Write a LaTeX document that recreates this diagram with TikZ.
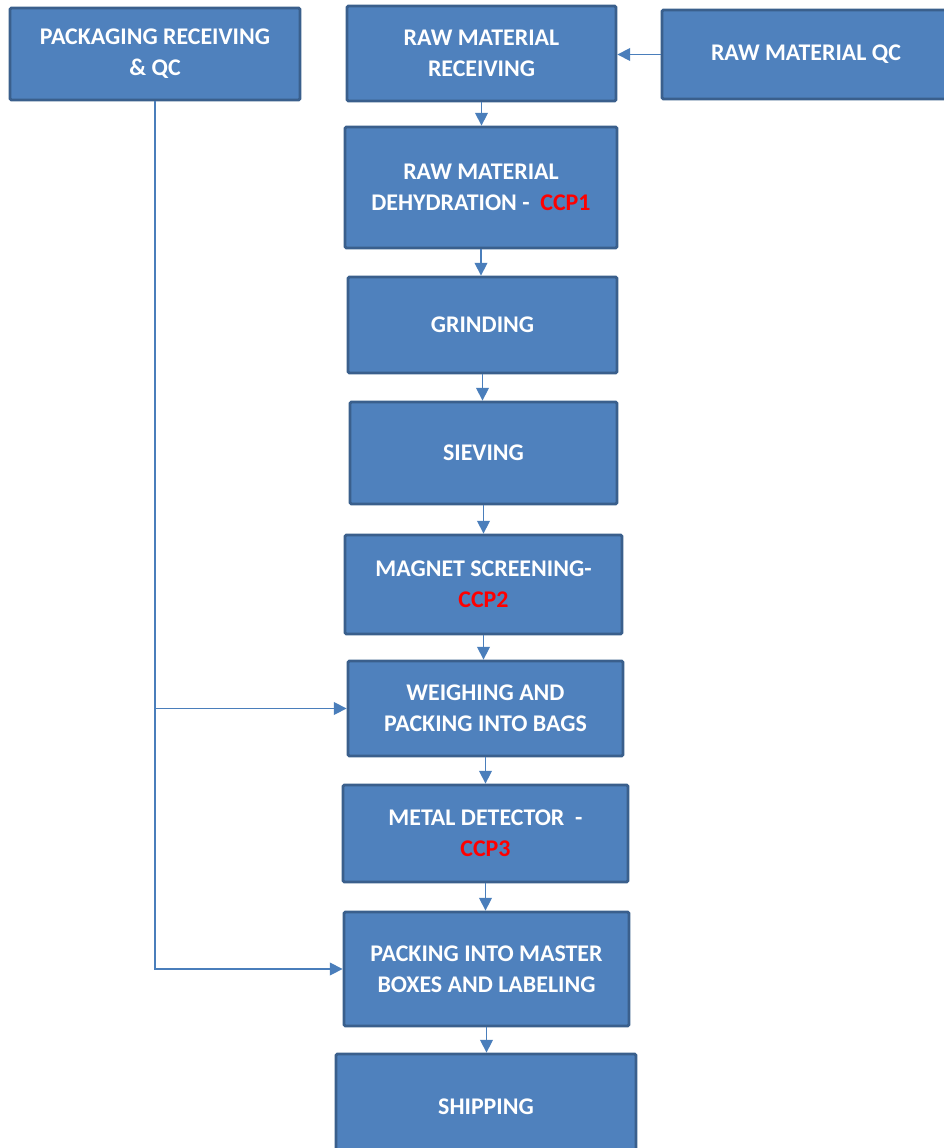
\documentclass[tikz,border=0pt]{standalone}
\usepackage{fontspec}
\setmainfont{Carlito}
\usetikzlibrary{arrows.meta}

\definecolor{boxfill}{HTML}{4F81BD}
\definecolor{boxborder}{HTML}{3A5F8C}
\definecolor{flowcolor}{HTML}{4A7EBB}
\providecommand{\ccpcolor}{red}
\providecommand{\boxborderthickness}{2pt}
\providecommand{\flowthickness}{1pt}
\newlength{\px}
\setlength{\px}{0.025cm}

\begin{document}
\begin{tikzpicture}[
    x=\px, y=-\px,
    % Box styles
    stage_box/.style={
        rectangle,
        rounded corners=1pt,
        fill=boxfill,
        draw=boxborder,
        line width=\boxborderthickness,
        text=white,
        font=\fontsize{17}{22}\selectfont\bfseries,
        align=center,
        inner sep=0pt
    },
    % Connector styles
    flow_line/.style={
        draw=flowcolor,
        line width=\flowthickness
    },
    flow_arrow/.style={
        flow_line,
        -{Triangle[length=9pt,width=9pt]}
    }
]
    \useasboundingbox (0,0) rectangle (944,1148);

    % ==================== SIDE INPUTS ====================
    \node[stage_box, minimum width=290\px, minimum height=92\px] (pkg) at (155,54)
        {PACKAGING RECEIVING\\\& QC};
    \node[stage_box, minimum width=288\px, minimum height=89\px] (rmqc) at (806,54.5)
        {RAW MATERIAL QC};

    % ==================== MAIN LINE ====================
    \node[stage_box, minimum width=269\px, minimum height=95\px] (rmrecv) at (481.5,53.5)
        {RAW MATERIAL\\RECEIVING};
    \node[stage_box, minimum width=272\px, minimum height=121\px] (dehyd) at (481,187.5)
        {RAW MATERIAL\\DEHYDRATION -~~\textcolor{\ccpcolor}{CCP1}};
    \node[stage_box, minimum width=269\px, minimum height=96\px] (grind) at (482.5,325)
        {GRINDING};
    \node[stage_box, minimum width=267\px, minimum height=102\px] (sieve) at (483.5,453)
        {SIEVING};
    \node[stage_box, minimum width=277\px, minimum height=99\px] (magnet) at (483.5,584.5)
        {MAGNET SCREENING-\\\textcolor{\ccpcolor}{CCP2}};
    \node[stage_box, minimum width=275\px, minimum height=95\px] (weigh) at (485.5,708.5)
        {WEIGHING AND\\PACKING INTO BAGS};
    \node[stage_box, minimum width=285\px, minimum height=97\px] (metal) at (485.5,833.5)
        {METAL DETECTOR~~-\\\textcolor{\ccpcolor}{CCP3}};
    \node[stage_box, minimum width=285\px, minimum height=114\px] (master) at (486.5,969)
        {PACKING INTO MASTER\\BOXES AND LABELING};
    \node[stage_box, minimum width=300\px, minimum height=106\px] (ship) at (486,1107)
        {SHIPPING};

    % QC feeds receiving
    \draw[flow_arrow] (rmqc.west) -- (rmqc.west -| rmrecv.east);

    % Main flow
    \draw[flow_arrow] (rmrecv.south) -- (rmrecv.south |- dehyd.north);
    \draw[flow_arrow] (dehyd.south) -- (dehyd.south |- grind.north);
    \draw[flow_arrow] (grind.south) -- (grind.south |- sieve.north);
    \draw[flow_arrow] (sieve.south) -- (sieve.south |- magnet.north);
    \draw[flow_arrow] (magnet.south) -- (magnet.south |- weigh.north);
    \draw[flow_arrow] (weigh.south) -- (weigh.south |- metal.north);
    \draw[flow_arrow] (metal.south) -- (metal.south |- master.north);
    \draw[flow_arrow] (master.south) -- (master.south |- ship.north);

    % Packaging branches
    \draw[flow_arrow] (pkg.south) |- (master.west);
    \draw[flow_arrow] (pkg.south |- weigh.west) -- (weigh.west);

\end{tikzpicture}
\end{document}
